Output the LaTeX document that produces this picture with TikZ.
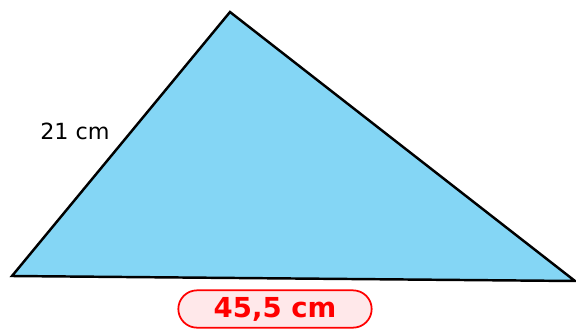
\documentclass[tikz,border=0pt]{standalone}
\usepackage{fontspec}
\setmainfont{DejaVu Sans}
\usepackage{xcolor}
\usepackage{tikz}
\usetikzlibrary{positioning,shapes.misc}
\definecolor{skyfill}{HTML}{84D6F5}
\definecolor{labred}{HTML}{FF0000}
\definecolor{palepink}{HTML}{FFE8EA}
\tikzset{
  side/.style  ={draw=black,line width=2.1pt,fill=skyfill,line join=miter},
  measure/.style={font=\fontsize{19}{22}\selectfont,inner sep=0pt},
  tag/.style   ={rounded rectangle,draw=labred,line width=1.5pt,fill=palepink,
                 text=labred,font=\fontsize{23.5}{26}\selectfont\bfseries,
                 minimum width=5.8cm,minimum height=1.12cm,inner sep=0pt}
}
\begin{document}
\begin{tikzpicture}[x=0.03cm,y=-0.03cm]
  \useasboundingbox (0,0) rectangle (576,329);
  \coordinate (left) at (12,276);
  \coordinate (top) at (230,12);
  \coordinate (right) at (575,281);
  \draw[side] (left) -- (top) -- (right) -- cycle;
  \node[measure] (ab) at (75,131) {21 cm};
  \node[tag] (base) at (275,309) {45,5 cm};
\end{tikzpicture}
\end{document}
